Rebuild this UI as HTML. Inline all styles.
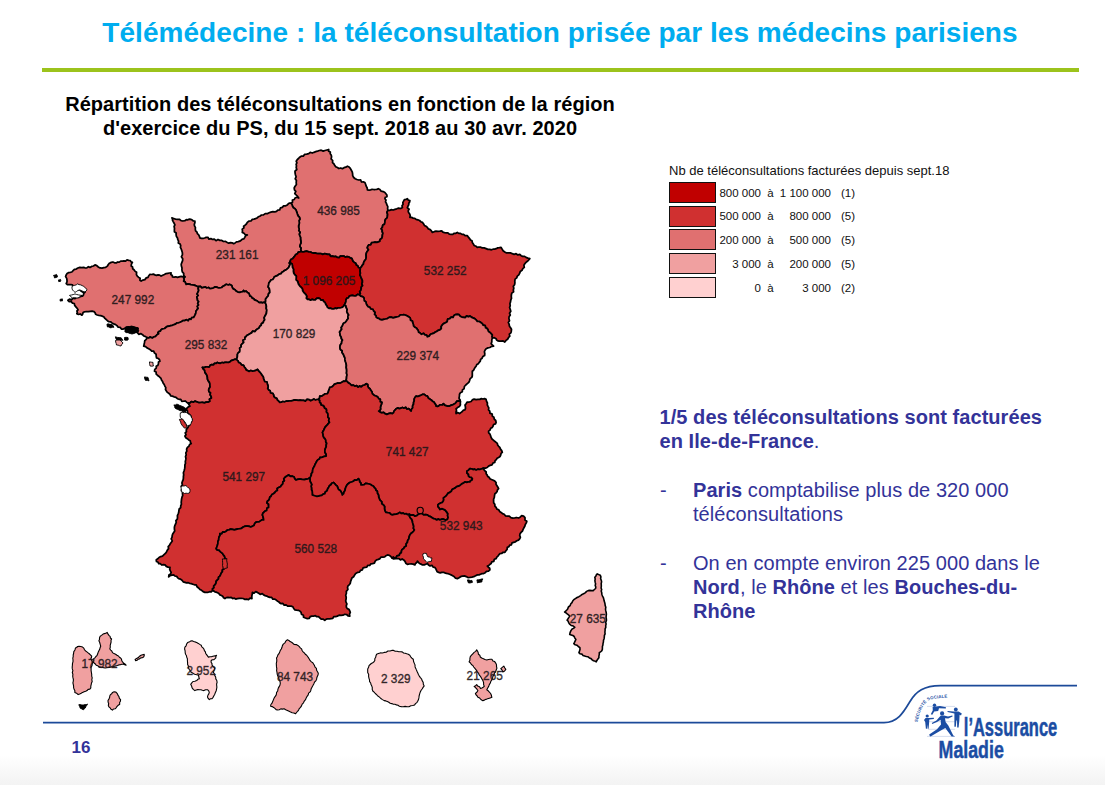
<!DOCTYPE html>
<html><head><meta charset="utf-8">
<style>
html,body{margin:0;padding:0;}
body{width:1105px;height:785px;position:relative;overflow:hidden;background:#fff;font-family:"Liberation Sans",sans-serif;}
.abs{position:absolute;white-space:nowrap;}
#botgrad{position:absolute;left:0;top:755px;width:1105px;height:30px;background:linear-gradient(#ffffff,#f3f3f3);}
#title{left:0;width:1120px;top:17px;text-align:center;font-weight:bold;font-size:28px;color:#00adef;line-height:32px;letter-spacing:0.05px;}
#gline{position:absolute;left:42px;top:68px;width:1037px;height:4px;background:#9cc31c;}
#sub{left:40px;width:600px;top:91.6px;letter-spacing:0.05px;text-align:center;font-weight:bold;font-size:20px;color:#000;line-height:24.5px;}
.leg{font-size:11.5px;color:#111;}
.sw{position:absolute;left:669px;width:45px;height:19px;border:1px solid #111;}
.rt{color:#333399;font-size:20px;line-height:24px;letter-spacing:0.06px;}
</style></head><body>
<div id="botgrad"></div>
<div id="title" class="abs">Télémédecine : la téléconsultation prisée par les médecins parisiens</div>
<div id="gline"></div>
<div id="sub" class="abs">Répartition des téléconsultations en fonction de la région<br>d'exercice du PS, du 15 sept. 2018 au 30 avr. 2020</div>

<!-- MAP -->
<svg id="map" class="abs" style="left:0;top:0" width="1105" height="785" viewBox="0 0 1105 785">
<g stroke="#000" stroke-width="1.75" stroke-linejoin="round">
<path d="M291.1,203.2 292.5,202.2 292.4,200.1 294.3,199.5 295,198 296.9,197.3 298.7,198 297.6,196.4 296.2,195 294.8,193.6 295.8,191.4 294.5,190 294.2,188 295.1,186.2 296.4,184.5 296.2,182.5 296.4,180.6 295.2,178.8 296.1,176.8 295.5,175 295.1,173.1 295,171.2 296.8,169.5 296.2,167.5 296.5,165.9 296.1,164.3 296.9,162.8 296.2,161.2 297.2,159.7 298.5,158.5 299.7,157.2 301.2,156.2 303.3,156.1 304.7,154.3 306.7,154.1 308.7,153.7 310.2,152.4 312.3,153 314,152.3 315.7,151.7 317.5,151.2 319.3,150.5 321.2,150.2 323.2,151.1 325,150.5 326.9,150 328.7,149.5 328.6,151.2 330.3,152.1 330.2,153.8 331.2,155 331.6,156.9 331.1,158.9 332.7,160.5 332.5,162.5 333.8,163.7 334.7,165.2 335.7,166.7 337.4,167.5 338.9,168.5 340.8,168 342.4,168.7 344,167.7 345.8,167.2 347.4,166.2 349.1,167 350.3,168.4 351.2,170 352.2,171.8 352.6,173.7 352.7,175.7 353.7,177.5 355.2,178.7 356.9,179.5 358.7,180 360.6,179.9 361.5,182 363.3,181.9 364.9,182.5 365.6,184.3 366.2,186.2 367.2,188 367.4,190 369,190.1 370.6,189.9 372.1,189.3 373.7,189.5 375.2,189.5 376.8,189.4 378.3,188.7 379.9,189.5 381.2,191.2 383.2,191.6 384.9,192.5 385.9,193.7 386.9,195 387,196.6 385.3,197.3 384.9,198.7 386,200 385.5,201.9 386.4,203.3 386.9,204.9 387.8,206.6 387.6,208.6 387.9,210.4 386.9,212.3 387.6,214.3 387.4,216.2 387.1,217.9 385.6,219.1 385,220.6 384.9,222.4 384.4,224.2 382.7,225.3 382.4,227.3 381.2,228.7 382.2,230.1 382.2,231.7 382.9,233.2 382.4,234.9 382.3,236.7 381.8,238.3 380.1,239.5 379.9,241.2 378.4,241.9 376.9,242.4 375.2,242.1 373.7,242.4 371.7,242.6 370.7,244.8 368.7,244.9 367.8,246.4 367.3,247.9 368.5,249.8 367.4,251.2 366.5,252.6 366.1,254.2 366.1,255.8 366.2,257.4 365.8,259.3 364.6,260.8 363.7,262.4 363.4,264.1 362.2,265.3 361.6,266.7 360.4,267.9 358.5,267.6 357.7,265.8 356.2,264.9 355.7,263.3 354.3,262.4 353,261.4 352.4,259.9 351.7,258.3 350,257.8 348.7,256.9 347,256.6 345.2,257.1 343.7,256.1 342.1,256.1 340.4,256 339.1,257.6 337.4,257.4 335.9,256.4 334.1,256.6 332.5,256.1 330.6,256.3 329.4,254.3 327.5,254.4 326,253.9 324.4,253.7 322.7,254.4 321.2,253.7 319.6,253.6 318.1,253.6 316.5,253.3 315,252.9 313.4,253.1 311.8,252.6 310.3,252 308.7,251.9 307,251.2 305.4,251.4 303.7,251.9 302.4,251.9 301.2,251.2 300.7,249.7 301,248 299.8,246.6 300,244.9 300.9,243.1 300.9,241.2 300.5,239.3 300.5,237.4 299.8,235.8 299.2,234.2 300.1,232.3 298.8,230.8 299.2,229 298.7,227.4 298.6,225.7 299.2,224.1 299.3,222.4 299,220.7 299.9,219.1 299.5,217.4 298.1,215.9 297.4,214.1 296.8,212.2 296.1,210.3 295,208.7 293.4,207.8 292.5,206.3 292,204.6 291.1,203.2Z" fill="#e07070"/>
<path d="M184.9,276.9 183.7,275.4 183.7,273.3 182.3,271.8 181.9,269.9 182,268 181.4,266.1 181.2,264.3 181.9,262.4 182.6,260.6 182.7,258.7 181.4,256.7 182.4,254.9 182.4,252.9 181.9,251 181.3,249.2 180.4,247.4 180.7,245.6 180.1,244.1 178.3,243 178.6,241.2 177.8,239.7 177.5,238 176.5,236.6 176.1,234.9 176.2,233 174.4,231.8 174.4,229.9 174.5,228.2 174.1,226.5 174.9,224.9 174.1,223.2 173.2,221.6 172.4,219.9 172.7,218.8 171.9,217.9 173.7,218.5 175.5,219.1 177.4,219.4 179.4,219.3 181,220.6 182.9,221 184.9,220.7 186.3,219.6 187.9,219.8 189.4,219.1 191.1,219.4 192.3,220.1 193.4,221 194.9,221.2 194.9,222.8 194.3,224.4 194.5,225.9 195.4,227.4 195.3,229.2 195.6,230.8 197,232.1 197.4,233.7 198.7,234.8 199.4,236.3 199.9,237.9 201.5,238.3 203.1,238.3 204.6,238 206.1,237.4 207.9,237.3 209,239.2 210.9,238.6 212.4,239.4 214.3,239.2 216,240.7 218,239.5 219.8,240.4 221.8,240.4 223.5,241.5 225.6,241.4 227.3,242.4 228.8,243.2 230.6,242.6 232.1,242.8 233.6,243.7 235.1,242.9 236.5,241.9 238.2,241.6 239.8,241.2 241.1,240.3 242.3,239.2 243.9,238.8 244.8,237.4 245.6,235.7 247.3,234.9 245.3,234.8 244,233.2 242.3,232.4 242.5,230.8 242.2,229.1 243.9,227.9 243.6,226.2 245.1,225.2 246.4,224 247.3,222.4 248.8,221.2 251,221 252.3,219.4 254,219.1 255.5,218.6 257,218 258.3,216.8 259.8,216.2 261.5,215 263.5,214.9 265.2,213.6 267.3,213.7 269.1,212.8 270.9,212.1 272.8,211.6 274.8,211.9 276.5,211.4 277.8,210.1 279.7,209.9 280.5,207.8 282.3,207.4 283.6,205.9 285.7,205.8 287.3,204.9 288.3,203.8 289.5,203.1 291.1,203.2 292,204.6 292.5,206.3 293.4,207.8 295,208.7 296.1,210.3 296.8,212.2 297.4,214.1 298.1,215.9 299.5,217.4 299.9,219.1 299,220.7 299.3,222.4 299.2,224.1 298.6,225.7 298.7,227.4 299.2,229 298.8,230.8 300.1,232.3 299.2,234.2 299.8,235.8 300.5,237.4 300.5,239.3 300.9,241.2 300.9,243.1 300,244.9 299.8,246.6 301,248 300.7,249.7 301.2,251.2 299.9,251.9 298.3,252.2 297.5,253.7 295.8,254.5 294.8,256 293.7,257.4 292.6,258.8 290.8,259.5 290.2,261.4 289.3,262.9 290,264.6 289.3,266.1 288.6,267.7 287.3,268.8 286,269.9 284.5,270.5 283.3,271.5 282,272.3 281,273.6 279.2,274.1 277.7,275.4 276,276.1 274.5,276.7 273.7,278.2 272.8,279.5 271.1,279.9 270,281.5 268.9,283 268.6,284.9 268.2,286.9 269.3,288.6 269.7,290.5 269.8,292.4 268.5,293.9 268.2,296 266.8,297.4 265.6,299 265.6,301 265.3,302.9 264,302.3 262.5,302.9 261.1,302.4 259.6,302.7 258.4,301.9 257.3,301.1 256,300.4 254.5,299.9 253.6,298.6 252.1,298.2 251.3,296.5 249.8,296.1 249.4,294.6 248.8,293.2 247.3,292.4 246.3,291.2 244.5,291.7 243.6,290.4 242.7,291.7 241.2,292 239.8,292.4 237.8,292.1 236.1,291.1 235,289.7 233.3,288.9 232.3,287.4 231.7,285.4 229.8,284.4 228.2,285 226.3,284.3 224.8,285.4 223.1,286.2 221.7,287.5 219.8,287.9 218.1,287.8 216.6,287.1 214.9,286.9 213.4,288 211.7,288.4 209.9,288.6 208.5,287.5 206.8,288 205.3,287 203.6,287.4 201.8,287.8 200.4,286.3 198.6,286.6 197,286.3 195.5,285.6 194,285.1 192.4,284.9 190.8,284.6 189.3,284.2 187.7,283.9 186.1,284.4 185.6,283.1 185,281.8 183.6,281.1 184.1,279.7 183.7,278.1 184.9,276.9Z" fill="#e07070"/>
<path d="M301.2,251.2 302.4,251.9 303.7,251.9 305.4,251.4 307,251.2 308.7,251.9 310.3,252 311.8,252.6 313.4,253.1 315,252.9 316.5,253.3 318.1,253.6 319.6,253.6 321.2,253.7 322.7,254.4 324.4,253.7 326,253.9 327.5,254.4 329.4,254.3 330.6,256.3 332.5,256.1 334.1,256.6 335.9,256.4 337.4,257.4 339.1,257.6 340.4,256 342.1,256.1 343.7,256.1 345.2,257.1 347,256.6 348.7,256.9 350,257.8 351.7,258.3 352.4,259.9 353,261.4 354.3,262.4 355.7,263.3 356.2,264.9 357.7,265.8 358.5,267.6 360.4,267.9 360.2,269.6 360.1,271.4 360.4,273.2 359.9,274.9 360.8,276.7 361.5,278.5 362.4,280.3 362.4,282.4 361.8,283.9 362.6,285.7 361.3,287 361.2,288.6 360.9,290.2 359.7,291.6 360.4,293.5 359.4,294.9 357.6,294.4 355.9,295.8 354.2,295.9 352.4,295.4 350.8,295.7 349.3,296.1 348.4,297.8 346.9,298.1 346,299.7 345.9,301.6 345.2,303.3 344.4,304.9 343.3,306.5 341.8,307.5 339.9,307.9 338.3,307.8 336.8,308.6 335.2,308.2 333.7,308.9 332.1,308.9 330.6,308.2 328.9,308.4 327.5,307.4 326.7,305.7 325.7,304.2 325,302.4 323.7,301.5 322.9,299.9 320.8,300.2 320,298.6 318.3,298.2 316.7,298.4 315.3,299.8 313.7,299.9 312.2,299.4 310.6,300.2 309.1,299.4 307.5,299.4 306.3,298.2 306.8,296.3 306.1,294.8 305,293.6 303.7,292.3 302.7,290.8 302.4,288.8 301.2,287.4 299.8,286.1 298.7,284.6 298.1,282.9 297.5,281.1 296.1,279.9 296.2,278 296.3,276.2 295,274.9 293.8,273.2 293.4,271.3 293.5,269.2 292.5,267.4 292.4,265.7 292.1,264.1 290.3,263.1 290.2,261.4 290.8,259.5 292.6,258.8 293.7,257.4 294.8,256 295.8,254.5 297.5,253.7 298.3,252.2 299.9,251.9 301.2,251.2Z" fill="#c00000"/>
<path d="M387.9,210.4 389.7,210.3 391.4,209.7 393.2,210 394.9,209.4 396.7,208.8 398.6,208.1 400.7,208.5 402.4,207.4 402,205.7 403.1,204.3 402.8,202.7 403.6,201.2 404.4,199.7 406,199.4 407.4,198.7 408.2,200.2 409.9,200.5 409.6,202 408.8,203.3 408.7,204.9 407.9,206.2 407.3,207.8 409.1,209.2 408.2,210.9 408.6,212.4 409.7,213.9 410.2,215.5 409.9,217.4 411.6,217.4 413.1,218.1 414.8,218.3 416.1,219.4 417.8,219.8 419.5,220.5 420.8,221.7 422.4,222.4 423.5,223.8 424.4,225.4 426,226.3 427.4,227.4 428.4,228.9 430.2,229.6 431.4,230.9 432.4,232.4 434.2,231.7 436,231.1 438,231.3 439.9,231.2 441.7,230.9 442.9,232.2 444.5,232.7 446.1,232.9 447.9,232.9 449.3,234.2 451.1,234.4 452.8,234.4 454.2,233.3 455.9,233.3 457.3,232.4 458.7,233.4 460.5,233.4 461.9,234.4 463.6,234.4 465.1,235.7 467.4,235.7 468.6,237.4 469.6,238.6 470.5,239.9 472,240.7 472.3,242.4 473.3,243.9 474.2,245.5 476,246.2 477.3,247.4 479,247 480.7,247.2 482.3,247.9 484.2,247.9 486.1,248.6 487.9,249.4 489.8,249.4 491.4,249.8 493,249.2 494.6,249.2 496.1,248.7 497.7,247.9 499.4,247.7 501.1,247.4 502.1,249.1 503.1,250.8 504.8,251.9 506.6,252.9 508.6,252.8 510.5,252.9 512.3,253.7 514.1,254.3 516.1,253.7 517.9,254.9 519.8,254.4 521.1,255.7 522.7,256.4 524.6,256.4 526,257.4 527.9,258.1 529.8,258.6 528.7,260 527.4,261.3 526,262.4 524.8,263.8 523.9,265.3 524.3,267.4 522.8,268.6 522,270.3 520.3,271.4 519.7,273.2 518.8,274.9 517.3,276.1 516.7,277.9 515.1,279.1 514.8,281.1 514.9,282.9 514.6,284.7 513.3,286.3 513.8,288.2 513.3,289.9 513.6,291.8 511.8,293.1 511.4,294.7 511.3,296.5 511.5,298.3 510.8,299.9 510.8,300 510.5,301.9 509.9,303.7 510.2,305.7 509.6,307.5 510.2,309.3 510.8,311.2 509.5,313.2 510.3,315 509.1,316.7 508.9,318.6 509.5,320.8 508.3,322.5 509.1,324.2 509.4,326 510.4,327.6 511.5,329.2 511.3,331.2 510.9,332.9 509.3,334.1 509.8,336.2 508.6,337.5 507.6,339.2 506,340.4 504.8,342 503.1,340.9 501.2,341.2 499.3,341.2 497.8,340.9 496.7,340.1 496.1,338.7 494.3,337.7 492.3,338 491.9,336.5 492.3,335 491.1,333.6 490,332.5 488.5,331.6 488,330 487.3,328.6 485.6,327.8 485.2,325.7 483.2,325.2 482.3,323.6 480.8,322.5 479.3,321.5 477.3,321.4 476.1,319.8 474.7,318.6 473,317.9 471.3,317.1 469.8,316.1 468.3,316.8 466.5,315.9 465.3,317.6 463.6,317.3 461.8,317.1 460.2,316.2 459.1,314.7 457.3,314.3 455.5,314.6 454,315.4 453.1,317.3 451,317.2 449.8,318.6 447.7,319.2 447.2,321.7 445.5,322.7 443.6,323.6 442.3,324.9 441.2,326.4 441.3,328.5 439.9,329.8 438.3,330.3 436.9,331.4 435.4,332 434,333.1 432.4,333.6 430.5,334.3 429.3,336.1 427.4,336.8 426.6,335.2 424.9,334.8 423.6,333.4 421.5,334.3 420.1,333.1 418.6,332.3 418.2,330.6 417.4,329.4 416.4,328.1 414.9,327.3 413.6,326 413.3,324.3 412.7,322.8 412.4,321.1 410.5,320.2 410.2,317.9 408.6,316.8 407.2,315.9 405.7,315.3 404.1,314.7 402.4,314.8 400.4,314.9 398.8,316.5 396.8,316.8 394.9,317.3 393.1,317.8 391,317.1 389.1,317.4 387.4,318.6 385.5,319 383.7,319.3 381.9,319.9 379.9,319.3 378.8,318.3 377.4,318.1 376.2,317.3 375.9,315.6 374.5,314.4 375,312.4 373.7,311.1 372.9,309.3 370.8,309 369.9,307.4 368.1,306.7 367,305.3 366.2,303.6 365.9,301.9 364.3,300.8 364.1,299 363.7,297.4 362.3,296.6 360.6,296.2 359.4,294.9 360.4,293.5 359.7,291.6 360.9,290.2 361.2,288.6 361.3,287 362.6,285.7 361.8,283.9 362.4,282.4 362.4,280.3 361.5,278.5 360.8,276.7 359.9,274.9 360.4,273.2 360.1,271.4 360.2,269.6 360.4,267.9 361.6,266.7 362.2,265.3 363.4,264.1 363.7,262.4 364.6,260.8 365.8,259.3 366.2,257.4 366.1,255.8 366.1,254.2 366.5,252.6 367.4,251.2 368.5,249.8 367.3,247.9 367.8,246.4 368.7,244.9 370.7,244.8 371.7,242.6 373.7,242.4 375.2,242.1 376.9,242.4 378.4,241.9 379.9,241.2 380.1,239.5 381.8,238.3 382.3,236.7 382.4,234.9 382.9,233.2 382.2,231.7 382.2,230.1 381.2,228.7 382.4,227.3 382.7,225.3 384.4,224.2 384.9,222.4 385,220.6 385.6,219.1 387.1,217.9 387.4,216.2 387.6,214.3 386.9,212.3 387.9,210.4Z" fill="#d03030"/>
<path d="M147,337.6 145.6,336.6 143.9,336 142.5,334.7 141,333.6 138.7,334.3 137.4,332.8 138,331.4 137,329.7 138,328.3 136.1,328.2 134.2,327.8 132.3,326.9 130.4,327.3 128.5,326.8 126.5,327.1 125,328.2 123.3,329 121.4,329 120.3,327.4 118.2,327.2 117,325.6 115.6,324.6 113.8,323.9 112.2,323.2 110.8,321.9 108.9,321.7 107.4,320.7 106.2,319.5 104.9,318.4 103.9,316.9 102.3,316.2 100.6,315.6 98.9,315.4 97.2,315 95.7,314.3 95,312.6 93.8,311.5 92.1,311.1 90.2,311.3 88.3,311.7 86.4,311.5 84.5,311.8 83.1,312.5 82.7,314 81.9,315.2 80.4,314 78.4,314.4 76.8,313.7 77.4,312.5 76.9,310.9 78.1,309.9 77.1,308.3 75.9,306.9 74.7,305.4 74.3,303.5 72.5,303.1 71.2,301.7 69.2,301.6 67.9,300.3 69.5,299.1 71.5,299.8 73,298.2 75,298.6 76.6,297.3 78.8,297.4 80.5,296.4 82.5,296.1 83.5,295 83.7,293.3 85,292.4 83,292.2 81.4,291.3 80,289.9 78.1,289.6 76.9,287.7 75,287.4 73.3,286.6 72.5,284.9 70.9,284.7 69.3,284.7 67.6,284.7 66.2,283.6 67,281.9 67,280.1 66.7,278.4 65.6,276.6 66.2,274.9 67.1,273.5 68.4,272.7 70,272.4 71.8,272 73.1,270.7 74.4,269.4 76.2,269.1 77.9,268 79.8,267.4 81.8,267.7 83.7,267.4 85.3,268 86.8,267.9 88.4,266.7 90,267.4 91.6,266.4 93.5,266 95,264.9 96.8,265.6 98.3,267 100,267.9 102,268.1 103.8,267.6 105.7,267.3 107.4,266.1 108.3,264.5 109.5,263.2 111.2,262.4 112.9,262 114.5,262.8 116.2,262.9 117.6,262 119.3,262.1 120.7,261.1 122.4,261.1 124,260.8 125.6,261.1 127,259.9 128.7,260.4 130.2,260.5 131.1,261.9 132.4,262.4 131.4,264.1 131.2,266.1 132.6,267 132.7,268.8 134,269.8 134.9,271.1 136.6,272.3 136.4,274.5 137.3,276.1 138.7,277.4 140.2,278.2 139.9,280.2 141.2,281.1 142.9,280.1 144.9,279.6 146.2,277.9 148,277.3 148.8,275.7 149.9,274.4 151.6,274.5 153.3,274.1 154.9,274.9 156.4,275.4 158.1,274.8 159.7,275.1 161.1,276.1 162.7,275.2 164.4,274.5 166.1,273.6 167.8,273.3 169.4,273 171.1,272.9 170.8,274.5 172.3,275.5 172.4,276.9 174.1,277.1 175.8,276.8 177.4,277.4 179.2,276.9 181.1,276.4 183,276.9 184.9,276.9 183.7,278.1 184.1,279.7 183.6,281.1 185,281.8 185.6,283.1 186.1,284.4 187.7,283.9 189.3,284.2 190.8,284.6 192.4,284.9 194,285.1 195.5,285.6 197,286.3 198.6,286.6 198.2,288.5 198.7,290.5 197.9,292.4 197.1,293.9 198.2,295.5 196.8,297 197.4,298.6 197.5,300.2 198.7,301.6 197.7,303.4 198.6,304.9 197.3,306.3 198.1,308.4 196.9,309.9 196,311.3 195.8,313.1 195.2,314.6 194.4,316.1 193.6,317.5 191.7,317.7 191.1,319.3 189.4,318.9 188.2,320.8 186.3,319.7 184.9,320.6 183.1,320.6 181.7,321.5 180.1,322.2 178.6,322.8 176.9,323 175.5,324.2 173.9,324.7 172.4,325.3 170.8,325.6 169.2,326.2 167.5,326.3 166.1,327.3 164.6,328.5 162.7,328.8 161.1,329.8 160.4,331.2 158.8,331.6 157.9,332.8 158.7,333.7 157,334.7 155.7,336.3 153.7,337 152.2,338 150.2,337 148.7,338 147,337.6Z" fill="#e07070"/>
<path d="M187.9,402.9 186.6,402.2 185.4,401 183.7,401.2 181.8,401.3 180.8,399.3 179,399.3 177.4,398.7 176,397.3 174.2,396.8 172.4,396.2 170.7,395.9 169.9,394.2 168.7,393.3 167.4,392.4 166.4,391 165.5,389.5 165.8,387.6 164.9,386.2 164.2,384.5 163.1,382.9 162.4,381.2 161.5,380 161,378.4 159.9,377.3 158.7,376.2 157.4,375.2 156.2,374.1 156.1,372 154.5,371.2 154.8,369.4 156.3,368.1 156.2,366.2 157.8,365.4 158.4,364 158.5,362.1 159.9,361.2 159.5,359.6 158.3,358.5 156.5,357.9 156.2,356.2 156.1,354.2 154.4,352.9 153.7,351.2 151.7,351.1 150.3,349.7 148.7,348.7 147,347.9 145.6,346.7 143.7,346.2 144.1,344.4 144.5,342.5 144.8,340.6 146.3,339.3 147,337.6 148.7,338 150.2,337 152.2,338 153.7,337 155.7,336.3 157,334.7 158.7,333.7 157.9,332.8 158.8,331.6 160.4,331.2 161.1,329.8 162.7,328.8 164.6,328.5 166.1,327.3 167.5,326.3 169.2,326.2 170.8,325.6 172.4,325.3 173.9,324.7 175.5,324.2 176.9,323 178.6,322.8 180.1,322.2 181.7,321.5 183.1,320.6 184.9,320.6 186.3,319.7 188.2,320.8 189.4,318.9 191.1,319.3 191.7,317.7 193.6,317.5 194.4,316.1 195.2,314.6 195.8,313.1 196,311.3 196.9,309.9 198.1,308.4 197.3,306.3 198.6,304.9 197.7,303.4 198.7,301.6 197.5,300.2 197.4,298.6 196.8,297 198.2,295.5 197.1,293.9 197.9,292.4 198.7,290.5 198.2,288.5 198.6,286.6 200.4,286.3 201.8,287.8 203.6,287.4 205.3,287 206.8,288 208.5,287.5 209.9,288.6 211.7,288.4 213.4,288 214.9,286.9 216.6,287.1 218.1,287.8 219.8,287.9 221.7,287.5 223.1,286.2 224.8,285.4 226.3,284.3 228.2,285 229.8,284.4 231.7,285.4 232.3,287.4 233.3,288.9 235,289.7 236.1,291.1 237.8,292.1 239.8,292.4 241.2,292 242.7,291.7 243.6,290.4 244.5,291.7 246.3,291.2 247.3,292.4 248.8,293.2 249.4,294.6 249.8,296.1 251.3,296.5 252.1,298.2 253.6,298.6 254.5,299.9 256,300.4 257.3,301.1 258.4,301.9 259.6,302.7 261.1,302.4 262.5,302.9 264,302.3 265.3,302.9 266.1,304.6 266.4,306.4 266.2,308.3 266.8,310 266.6,311.6 266.4,313.3 265.7,314.8 264.9,316.2 264.1,317.8 264.7,319.7 263.6,321.2 263.2,322.8 261.5,323.6 261.2,325.3 259.9,326.2 259.1,327.9 257.5,328.9 256.1,330 255,331.6 252.6,331.2 251.5,332.9 249.9,333.7 248.6,334.6 247.1,335.2 246.1,336.5 244.9,337.5 245,339.3 243,340.3 243.7,342.4 242.4,343.7 241.1,345 241.2,346.9 239.7,348.1 239.9,350 239.7,351.7 238.2,352.9 237.4,354.4 237.4,356.2 237.1,358 236.1,359.4 234.3,359.4 232.8,360.2 231.2,360.6 229.9,361.9 228.4,362.5 226.7,362.4 225.1,362.3 223.6,362.9 222.1,362.5 220.4,363.3 218.9,363.2 217.4,362.4 216.3,363.4 214.4,363.4 213.6,364.9 211.8,364.7 210.3,365.2 209.2,367.1 207.4,366.9 205.7,366.9 204.1,367.7 202.4,367.4 203.3,369 204.7,370.4 204.9,372.4 206.1,373.9 207,375.5 207.4,377.4 207.5,379.2 208.2,380.7 209.3,382.1 209.9,383.7 209.9,385.3 210.1,387 209.1,388.4 208.7,389.9 208.9,391.6 210.5,392.8 210.1,394.8 211.1,396.2 211.4,398 209.5,399.3 209.9,401.2 208.1,402.2 206.2,402.2 204.4,402.8 202.4,402.4 200.5,402.5 198.5,402.5 196.7,401.8 194.9,401.2 193.3,402.2 191.3,401.7 189.8,403.2 187.9,402.9Z" fill="#e07070"/>
<path d="M265.3,302.9 265.6,301 265.6,299 266.8,297.4 268.2,296 268.5,293.9 269.8,292.4 269.7,290.5 269.3,288.6 268.2,286.9 268.6,284.9 268.9,283 270,281.5 271.1,279.9 272.8,279.5 273.7,278.2 274.5,276.7 276,276.1 277.7,275.4 279.2,274.1 281,273.6 282,272.3 283.3,271.5 284.5,270.5 286,269.9 287.3,268.8 288.6,267.7 289.3,266.1 290,264.6 289.3,262.9 290.2,261.4 290.3,263.1 292.1,264.1 292.4,265.7 292.5,267.4 293.5,269.2 293.4,271.3 293.8,273.2 295,274.9 296.3,276.2 296.2,278 296.1,279.9 297.5,281.1 298.1,282.9 298.7,284.6 299.8,286.1 301.2,287.4 302.4,288.8 302.7,290.8 303.7,292.3 305,293.6 306.1,294.8 306.8,296.3 306.3,298.2 307.5,299.4 309.1,299.4 310.6,300.2 312.2,299.4 313.7,299.9 315.3,299.8 316.7,298.4 318.3,298.2 320,298.6 320.8,300.2 322.9,299.9 323.7,301.5 325,302.4 325.7,304.2 326.7,305.7 327.5,307.4 328.9,308.4 330.6,308.2 332.1,308.9 333.7,308.9 335.2,308.2 336.8,308.6 338.3,307.8 339.9,307.9 341.8,307.5 343.3,306.5 344.4,304.9 345.9,305.8 346.2,307.5 347.2,309.3 346.8,311.5 347.6,313.3 348.7,315 347.8,316.4 348.2,318.4 347.2,319.8 346.2,321.2 345.2,322.5 343.6,323.2 342.9,324.7 342.2,326.2 341.2,327.5 341.7,329.2 340.7,330.6 339.6,332 340,333.7 340.2,335.5 341.2,336.9 341.4,338.6 342.5,340 341.7,341.5 341.6,343.2 340.5,344.6 340,346.2 340,347.9 340.4,349.5 342.2,350.7 342,352.5 343.3,354.1 344,356 344.9,357.8 345,359.9 345.5,361.7 346.1,363.6 346.4,365.4 346.2,367.4 346.6,369.3 346.7,371.1 346.5,373.1 347,374.9 346.6,376.7 346.5,378.6 346.1,380.4 345,381.4 343.5,381.2 341.8,382.3 340,383.2 337.8,383 336,383.7 334.3,384.3 333.1,385.9 331.7,387 329.8,387.4 329.3,389 328.7,390.6 328.2,392.2 327.3,393.7 325.2,393.8 323.5,394.9 321.9,396.1 319.8,396.2 319.6,398 318.6,399.4 317,399.5 315.5,400 313.8,399.1 312.3,399.9 310.6,400.8 308.8,399.6 307,399.4 305.4,401.1 303.6,400.4 301.8,400.4 300.1,400.2 298.3,400.3 296.6,400.1 294.8,399.9 293.1,400.4 291.4,400.8 289.6,400.9 287.9,401.1 286.1,401.2 284.6,401.8 282.9,401.5 281.4,402.1 279.8,402.4 278.6,401.1 277.3,399.9 276.7,398.4 275,397.7 273.9,396.6 273.6,394.9 272.7,393.3 270.5,393 270.2,390.8 268.6,389.9 267.7,388.5 268.1,386.8 267.8,385.2 267.3,383.7 267,382 264.8,381.7 264.2,380.2 263.6,378.7 263.2,376.8 262,375.3 261.1,373.7 259.9,372.3 258.6,370.9 257.4,369.4 255.9,370.3 254.2,370.8 252.4,371.2 250.9,370.5 249.1,371.4 247.6,370.6 246.1,369.9 245.5,368.3 244.3,367 243.6,365.4 241.6,364.9 240.4,363.2 238.6,362.4 237.8,360.6 236.1,359.4 237.1,358 237.4,356.2 237.4,354.4 238.2,352.9 239.7,351.7 239.9,350 239.7,348.1 241.2,346.9 241.1,345 242.4,343.7 243.7,342.4 243,340.3 245,339.3 244.9,337.5 246.1,336.5 247.1,335.2 248.6,334.6 249.9,333.7 251.5,332.9 252.6,331.2 255,331.6 256.1,330 257.5,328.9 259.1,327.9 259.9,326.2 261.2,325.3 261.5,323.6 263.2,322.8 263.6,321.2 264.7,319.7 264.1,317.8 264.9,316.2 265.7,314.8 266.4,313.3 266.6,311.6 266.8,310 266.2,308.3 266.4,306.4 266.1,304.6 265.3,302.9Z" fill="#f0a0a0"/>
<path d="M344.4,304.9 345.2,303.3 345.9,301.6 346,299.7 346.9,298.1 348.4,297.8 349.3,296.1 350.8,295.7 352.4,295.4 354.2,295.9 355.9,295.8 357.6,294.4 359.4,294.9 360.6,296.2 362.3,296.6 363.7,297.4 364.1,299 364.3,300.8 365.9,301.9 366.2,303.6 367,305.3 368.1,306.7 369.9,307.4 370.8,309 372.9,309.3 373.7,311.1 375,312.4 374.5,314.4 375.9,315.6 376.2,317.3 377.4,318.1 378.8,318.3 379.9,319.3 381.9,319.9 383.7,319.3 385.5,319 387.4,318.6 389.1,317.4 391,317.1 393.1,317.8 394.9,317.3 396.8,316.8 398.8,316.5 400.4,314.9 402.4,314.8 404.1,314.7 405.7,315.3 407.2,315.9 408.6,316.8 410.2,317.9 410.5,320.2 412.4,321.1 412.7,322.8 413.3,324.3 413.6,326 414.9,327.3 416.4,328.1 417.4,329.4 418.2,330.6 418.6,332.3 420.1,333.1 421.5,334.3 423.6,333.4 424.9,334.8 426.6,335.2 427.4,336.8 429.3,336.1 430.5,334.3 432.4,333.6 434,333.1 435.4,332 436.9,331.4 438.3,330.3 439.9,329.8 441.3,328.5 441.2,326.4 442.3,324.9 443.6,323.6 445.5,322.7 447.2,321.7 447.7,319.2 449.8,318.6 451,317.2 453.1,317.3 454,315.4 455.5,314.6 457.3,314.3 459.1,314.7 460.2,316.2 461.8,317.1 463.6,317.3 465.3,317.6 466.5,315.9 468.3,316.8 469.8,316.1 471.3,317.1 473,317.9 474.7,318.6 476.1,319.8 477.3,321.4 479.3,321.5 480.8,322.5 482.3,323.6 483.2,325.2 485.2,325.7 485.6,327.8 487.3,328.6 488,330 488.5,331.6 490,332.5 491.1,333.6 492.3,335 491.9,336.5 492.3,338 491.8,339.9 491.8,341.9 491.1,343.7 492.3,345 493.6,346.2 492.2,346.3 491,346.8 489.8,347.5 487.9,347.9 486.1,348.7 485,350.2 484.4,351.8 484.8,353.7 484.6,355.6 482.8,356.6 482.1,358.2 480.6,359.4 480.3,361.2 479.2,362.4 478.3,363.8 476.8,364.6 476.1,366.2 475.1,367.4 474.3,368.8 473.6,370.2 472.3,371.2 472.3,372.8 472.3,374.3 472.3,375.9 471.8,377.4 470.2,378.6 469.6,380.6 468.8,382.4 467.3,383.7 465.8,385 464.4,386.5 464.1,388.7 462.4,389.9 462.3,391.8 460.4,392.8 459.5,394.3 459.4,396.2 459,398.1 459.9,399.9 458.9,401.1 457,401.1 456.1,402.4 455.1,403.5 453.7,404.2 452.4,404.9 450.8,405.4 449.2,406.2 447.4,406.2 445.9,405.7 444.4,405.2 443.6,403.7 442,405 439.9,404.9 438.8,405.9 437.6,406.5 436.1,406.2 435.7,404.6 434.7,403.4 433.9,402 432.4,401.2 431.2,399.9 429.7,398.9 428.2,397.9 427.4,396.2 425.7,395.6 424.3,394.3 422.4,394.4 420.9,395.2 419.4,395.9 417.9,396.5 416.1,396.2 414.9,397.5 414.2,399 414.2,400.9 413.6,402.4 413.5,404.3 412.6,405.9 412.7,407.8 411.5,409.3 411.1,411.1 409.9,409.9 408.7,408.7 407,409.1 405.7,407.4 403.9,408.2 402.4,407.4 400.9,408.2 399.4,408.7 397.7,407.9 396.2,408.7 395.2,409.9 394.1,411 393.6,412.6 392.4,413.6 390.5,413.1 388.6,413.6 386.8,414.4 384.9,413.6 383.6,412.4 381.6,412.8 380.1,412.1 378.7,411.1 379.9,410.2 380.6,409 380.4,407.4 380.8,405.7 381.5,404.1 381.9,402.4 380.2,401.7 380.3,399.4 378.7,398.7 377.9,397.2 376.6,396.3 375.1,395.7 373.7,394.9 372.3,393.6 371.9,391.7 370.8,390.3 369.9,388.7 368.6,387.7 367.8,386.4 367.7,384.6 366.2,383.7 364.7,385 362.7,385.5 361.2,386.9 359.7,386 358,387.2 356.6,385.7 355,386.2 353.4,385.1 351.3,385.3 350,383.7 348.4,382.9 347.2,381.7 346.1,380.4 346.5,378.6 346.6,376.7 347,374.9 346.5,373.1 346.7,371.1 346.6,369.3 346.2,367.4 346.4,365.4 346.1,363.6 345.5,361.7 345,359.9 344.9,357.8 344,356 343.3,354.1 342,352.5 342.2,350.7 340.4,349.5 340,347.9 340,346.2 340.5,344.6 341.6,343.2 341.7,341.5 342.5,340 341.4,338.6 341.2,336.9 340.2,335.5 340,333.7 339.6,332 340.7,330.6 341.7,329.2 341.2,327.5 342.2,326.2 342.9,324.7 343.6,323.2 345.2,322.5 346.2,321.2 347.2,319.8 348.2,318.4 347.8,316.4 348.7,315 347.6,313.3 346.8,311.5 347.2,309.3 346.2,307.5 345.9,305.8 344.4,304.9Z" fill="#e07070"/>
<path d="M212.9,590.6 211.9,591 211.2,591.9 209.6,591.7 208.1,592.3 206.5,592.3 204.9,592.4 203.1,591.6 201.6,590.3 199.9,589.4 198.6,588 197,586.7 196.2,584.9 194.4,584.8 192.8,584.2 191.2,583.6 189.6,583.3 188.2,582.7 186.5,582.9 185,582.4 183.2,581.8 182,580.3 180.5,579.1 178.7,578.6 177.5,577.6 176.6,576.3 174.8,576 173.7,574.9 171.9,575.1 170.1,575.6 168.7,576.9 168.9,575 170.5,574 171.2,572.4 170.3,570.9 169.7,569.2 170,567.4 168,567.1 166.3,566.4 165,564.9 163.4,564.6 161.7,565 160.3,563.6 158.7,563.6 158.1,562.2 156.5,561.5 156.2,559.9 157.7,558.8 159,557.5 160.7,556.6 162.5,556.1 164,554.7 165.4,553.4 166.6,551.7 167.5,549.9 168.6,548.6 168.2,546.5 169.4,545.3 170.2,543.8 171.2,542.4 172.3,540.9 171.2,538.9 172,537.3 172.2,535.6 172.7,533.9 173.7,532.4 174.7,530.9 174.4,529 174.4,527.3 174.8,525.6 175.6,524 176.2,522.4 175.9,520.6 177.3,519.1 177.5,517.4 177.4,515.6 178.1,514 178.7,512.4 178.9,510.7 179.2,509 180.7,507.6 180.7,505.8 181.4,504.2 181.2,502.4 181.4,500.6 181.6,498.9 182,497.2 182.7,495.5 182.5,493.7 182.5,491.8 181.4,490 182.3,487.9 181.2,486.2 182.4,484.8 181.9,483 182.4,481.4 183.1,479.8 183.4,478.2 183.4,476.5 183.7,474.8 183.4,472.8 184.1,470.8 184.6,468.9 184.9,466.9 184.9,464.9 185.5,463.3 185.3,461.6 185.7,459.9 185.9,458.3 185.5,456.5 186.2,454.9 185.8,452.9 186.8,451.1 186.6,449.2 187.4,447.4 188.9,446.3 189.6,444.5 191.2,443.6 190.5,442.3 190.2,440.7 188.7,439.9 187.3,438.7 185.8,437.7 184.9,436.1 186,434.7 185.2,432.9 186.5,431.6 186.2,429.9 187,428.6 188,427.4 188.7,425.9 189.9,424.9 190.1,423.1 191.3,421.6 191.9,419.9 191.1,418.3 191,416.4 189.9,414.9 188.7,413.8 187.4,412.9 187.5,410.9 186.2,409.9 186.9,408.1 188.2,407 189.9,406.2 188.9,404.5 187.9,402.9 189.8,403.2 191.3,401.7 193.3,402.2 194.9,401.2 196.7,401.8 198.5,402.5 200.5,402.5 202.4,402.4 204.4,402.8 206.2,402.2 208.1,402.2 209.9,401.2 209.5,399.3 211.4,398 211.1,396.2 210.1,394.8 210.5,392.8 208.9,391.6 208.7,389.9 209.1,388.4 210.1,387 209.9,385.3 209.9,383.7 209.3,382.1 208.2,380.7 207.5,379.2 207.4,377.4 207,375.5 206.1,373.9 204.9,372.4 204.7,370.4 203.3,369 202.4,367.4 204.1,367.7 205.7,366.9 207.4,366.9 209.2,367.1 210.3,365.2 211.8,364.7 213.6,364.9 214.4,363.4 216.3,363.4 217.4,362.4 218.9,363.2 220.4,363.3 222.1,362.5 223.6,362.9 225.1,362.3 226.7,362.4 228.4,362.5 229.9,361.9 231.2,360.6 232.8,360.2 234.3,359.4 236.1,359.4 237.8,360.6 238.6,362.4 240.4,363.2 241.6,364.9 243.6,365.4 244.3,367 245.5,368.3 246.1,369.9 247.6,370.6 249.1,371.4 250.9,370.5 252.4,371.2 254.2,370.8 255.9,370.3 257.4,369.4 258.6,370.9 259.9,372.3 261.1,373.7 262,375.3 263.2,376.8 263.6,378.7 264.2,380.2 264.8,381.7 267,382 267.3,383.7 267.8,385.2 268.1,386.8 267.7,388.5 268.6,389.9 270.2,390.8 270.5,393 272.7,393.3 273.6,394.9 273.9,396.6 275,397.7 276.7,398.4 277.3,399.9 278.6,401.1 279.8,402.4 281.4,402.1 282.9,401.5 284.6,401.8 286.1,401.2 287.9,401.1 289.6,400.9 291.4,400.8 293.1,400.4 294.8,399.9 296.6,400.1 298.3,400.3 300.1,400.2 301.8,400.4 303.6,400.4 305.4,401.1 307,399.4 308.8,399.6 310.6,400.8 312.3,399.9 313.8,399.1 315.5,400 317,399.5 318.6,399.4 319.8,400.5 319.7,402.3 321,403.3 321.2,404.9 322.8,405.3 324.1,406.3 324.7,408.1 326.2,408.7 326.7,410.2 326.5,412 327.8,413.3 328,414.9 327.9,416.9 329.2,418.6 328.7,420.6 329.5,422.4 328.3,423.6 327.3,424.9 326.1,426.1 325,427.4 324.2,429.1 323.4,430.8 322.5,432.4 323,434 323.2,435.7 323.7,437.3 325,438.6 325.8,440.1 325.8,441.7 326.7,443.2 326.2,444.9 326.2,446.8 325.3,448.6 324.9,450.5 325,452.4 326.1,454.1 326.2,456.1 324.6,456.3 323.1,456.9 321.6,457.5 320,457.4 319.5,459 317.9,459.7 316.9,461 316.2,462.4 315.3,464 314.6,465.7 313.7,467.3 312.9,468.9 312.6,470.6 312.5,472.3 311.4,473.5 311.3,475.2 310.7,476.6 309.9,477.9 308.1,478.8 306.2,479.1 304.3,479.6 302.3,479.5 300.7,479.1 299.2,479.2 297.6,479.4 296.1,480 294.8,478.8 294.1,477.1 292.4,476.2 290.3,476.3 288.6,475 287.4,475.8 286.1,476.5 284.9,477.5 283.8,478.8 284.4,480.8 282.8,482 282.9,483.7 281.6,485.1 280.5,486.7 278.6,487.5 277.2,488.4 277.4,490.5 275.8,491.2 274.9,492.5 273.6,493.7 271.9,494.5 271.1,496.2 269.8,497.2 269.5,498.9 268.7,500.2 267.4,501.2 266.9,502.9 268.6,504.2 268.6,505.8 268.6,507.4 266.9,508.2 266.7,510.4 264.9,511.2 263.8,512.3 262.8,513.4 262.4,514.9 263,516.5 263.4,518.2 263.6,519.9 261.9,519.9 260.5,520.9 259.1,521.9 257.4,521.9 255.7,522.4 254.6,523.7 254,525.5 252.4,526.2 250.8,527 249.2,526.4 247.7,526.2 246.1,526.2 244.4,526.4 242.9,527.2 241.5,528.3 239.9,528.7 238,528.8 236.2,529.3 234.3,529.9 232.4,529.4 230.6,529.1 229.2,529.8 227.5,530 226.2,531.2 224.7,532.1 222.8,531.8 221.7,533.8 219.9,533.7 220.1,535.3 219.2,536.8 218.8,538.3 218.7,539.9 217.9,541.6 217.9,543.5 217.4,545.2 216.8,547 216.2,548.7 217.2,549.9 219,550.1 220,551.4 221.2,552.4 222.5,553.4 223.3,554.7 224.3,555.9 224.9,557.4 225.4,559.2 225.2,561.2 225.7,563.1 226.2,564.9 225.8,566.5 223.7,566.9 223.9,569.1 222.4,569.9 222.4,571.7 221.3,573 220.6,574.6 219.9,576.1 218.6,577.1 218.5,578.9 217.4,580 216.2,581.1 216,583.1 215.1,584.7 213.7,586.1 214,587.7 212.5,589 212.9,590.6Z" fill="#d03030"/>
<path d="M318.6,399.4 319.6,398 319.8,396.2 321.9,396.1 323.5,394.9 325.2,393.8 327.3,393.7 328.2,392.2 328.7,390.6 329.3,389 329.8,387.4 331.7,387 333.1,385.9 334.3,384.3 336,383.7 337.8,383 340,383.2 341.8,382.3 343.5,381.2 345,381.4 346.1,380.4 347.2,381.7 348.4,382.9 350,383.7 351.3,385.3 353.4,385.1 355,386.2 356.6,385.7 358,387.2 359.7,386 361.2,386.9 362.7,385.5 364.7,385 366.2,383.7 367.7,384.6 367.8,386.4 368.6,387.7 369.9,388.7 370.8,390.3 371.9,391.7 372.3,393.6 373.7,394.9 375.1,395.7 376.6,396.3 377.9,397.2 378.7,398.7 380.3,399.4 380.2,401.7 381.9,402.4 381.5,404.1 380.8,405.7 380.4,407.4 380.6,409 379.9,410.2 378.7,411.1 380.1,412.1 381.6,412.8 383.6,412.4 384.9,413.6 386.8,414.4 388.6,413.6 390.5,413.1 392.4,413.6 393.6,412.6 394.1,411 395.2,409.9 396.2,408.7 397.7,407.9 399.4,408.7 400.9,408.2 402.4,407.4 403.9,408.2 405.7,407.4 407,409.1 408.7,408.7 409.9,409.9 411.1,411.1 411.5,409.3 412.7,407.8 412.6,405.9 413.5,404.3 413.6,402.4 414.2,400.9 414.2,399 414.9,397.5 416.1,396.2 417.9,396.5 419.4,395.9 420.9,395.2 422.4,394.4 424.3,394.3 425.7,395.6 427.4,396.2 428.2,397.9 429.7,398.9 431.2,399.9 432.4,401.2 433.9,402 434.7,403.4 435.7,404.6 436.1,406.2 437.6,406.5 438.8,405.9 439.9,404.9 442,405 443.6,403.7 444.4,405.2 445.9,405.7 447.4,406.2 449.2,406.2 450.8,405.4 452.4,404.9 453.7,404.2 455.1,403.5 456.1,402.4 457,401.1 458.9,401.1 459.9,399.9 460.5,401.5 460.3,403.2 460.4,404.9 459.4,406.6 457.6,407.6 456.1,408.7 456.5,410.3 456,412 456.1,413.6 457.6,412.5 459.6,413.6 461.1,412.4 462.3,411.5 463.3,410.2 464.9,409.9 465.5,408.4 465.4,406.8 465,405.1 466.1,403.7 467.2,402 469.3,402 471.1,401.5 472.3,399.9 474.1,399.1 476.1,399.7 477.9,399.4 479.8,399.4 481.4,398.6 483,399 484.5,398.6 486.1,399.4 486.5,401.2 487.4,403 487.3,404.9 488,406.4 488.8,407.9 488.5,409.8 489.8,411.1 489.9,413.1 492.2,414.1 492.3,416.1 493.9,417.3 494.3,419.2 495.7,420.5 496.1,422.4 495.5,423.9 493.6,424.5 493.1,426 492.3,427.4 490.7,428.3 490,430.1 488.6,431.1 488.7,432.9 490,434.2 490.6,435.8 491.1,437.4 492,439 493.4,440.1 494.7,441.3 496.1,442.4 497.3,443.4 497.7,445.1 498.7,446.3 499.8,447.4 500.5,449.1 501.7,450.6 502.3,452.4 501.1,453.4 500.7,455.1 500,456.5 498.6,457.4 497.1,458.2 496.3,459.6 495.1,460.7 494.8,462.4 493,463 492,464.8 490.2,465.3 488.6,466.1 487.2,467.5 485.5,468.1 483.6,468.2 481.8,468.8 479.9,469.5 477.9,469.2 476.1,470 474.6,469.2 473,469.6 471.5,468.8 469.9,468.7 468.5,470.1 466.9,471.2 467,473 468.5,474.4 468.6,476.2 469.8,477.2 471.5,477.4 472.4,478.7 471.9,480.1 470.5,480.7 469.9,482 468.2,481.8 466.7,482.3 465,481.9 463.6,483 461.8,483.9 460.3,485.2 458.6,486.2 456.7,486.6 455.3,487.9 453.6,488.7 452.1,489.6 451.3,491.3 449.9,492.4 448.2,493.1 447.2,494.5 446.2,495.8 444.9,496.9 443.5,497.9 443.7,499.7 443.2,501.1 442.4,502.4 440.7,503 439.2,503.7 437.9,504.9 438,506.7 439.2,507.9 439.9,509.4 441.7,508.7 443.3,509.2 444.9,509.9 446,511.1 447,512.4 447.9,513.7 447.6,515.6 448.1,517.5 447.4,519.4 445.6,520.1 443.6,519.2 441.7,519.2 439.9,519.9 438.4,519.1 436.7,519.9 435.2,519 433.7,518.7 432.1,517.8 430.6,516.7 428.8,516.1 427.4,514.9 425.5,514.7 423.6,514.9 421.9,513.4 419.9,513.7 418.2,514.4 416.8,515.7 414.9,516.2 413.3,514.9 411.2,515.2 409.4,514.4 407.7,514.7 406.2,513.7 404.5,514 403,513.1 401.3,513.5 399.9,512.4 399.8,512.4 398.1,513.6 396.2,514.2 394.2,514.4 392.3,514.9 390.7,514.2 389.5,512.9 387.7,512.7 386,512.4 384.9,510.7 384.5,508.7 384.6,506.6 383.5,504.9 381.8,503.8 381.7,501.6 380.1,500.4 379.3,498.7 378.7,496.9 378.5,494.9 377.4,493.2 377.3,491.2 375.9,490.3 375.5,488.6 374.3,487.6 373.5,486.2 372,485.5 370.6,484.5 369,484 367.3,483.7 365.6,483.4 364.2,484.7 362.6,484.8 361,485 360.9,483.2 359.7,481.9 359.4,480.2 358.5,478.7 356.9,480.1 354.8,480 353.3,481.2 351.6,482 349.8,482.5 348.2,483.7 346.9,485.1 346,486.8 345.3,488.7 345,490.5 344,492 343.6,493.7 342.3,495 341.9,493.3 341,491.8 340.2,490.4 338.5,489.4 337.8,487.9 337.3,486.2 335.9,485.1 334.8,483.8 333.6,482.5 331.8,483.2 330.9,484.8 329.4,485.8 328.6,487.5 327.6,489 327.1,490.8 325.3,491.9 324.8,493.7 323.2,494.1 321.8,495.3 320.2,495.7 318.6,496.2 316.9,496.3 315.4,496 313.8,495.5 312.3,495 312.3,493.2 312.2,491.4 311.5,489.7 311.5,487.9 311.1,486.2 311.7,484.4 310.9,482.8 310,481.3 310,479.6 309.9,477.9 310.7,476.6 311.3,475.2 311.4,473.5 312.5,472.3 312.6,470.6 312.9,468.9 313.7,467.3 314.6,465.7 315.3,464 316.2,462.4 316.9,461 317.9,459.7 319.5,459 320,457.4 321.6,457.5 323.1,456.9 324.6,456.3 326.2,456.1 326.1,454.1 325,452.4 324.9,450.5 325.3,448.6 326.2,446.8 326.2,444.9 326.7,443.2 325.8,441.7 325.8,440.1 325,438.6 323.7,437.3 323.2,435.7 323,434 322.5,432.4 323.4,430.8 324.2,429.1 325,427.4 326.1,426.1 327.3,424.9 328.3,423.6 329.5,422.4 328.7,420.6 329.2,418.6 327.9,416.9 328,414.9 327.8,413.3 326.5,412 326.7,410.2 326.2,408.7 324.7,408.1 324.1,406.3 322.8,405.3 321.2,404.9 321,403.3 319.7,402.3 319.8,400.5 318.6,399.4Z" fill="#d03030"/>
<path d="M309.9,477.9 310,479.6 310,481.3 310.9,482.8 311.7,484.4 311.1,486.2 311.5,487.9 311.5,489.7 312.2,491.4 312.3,493.2 312.3,495 313.8,495.5 315.4,496 316.9,496.3 318.6,496.2 320.2,495.7 321.8,495.3 323.2,494.1 324.8,493.7 325.3,491.9 327.1,490.8 327.6,489 328.6,487.5 329.4,485.8 330.9,484.8 331.8,483.2 333.6,482.5 334.8,483.8 335.9,485.1 337.3,486.2 337.8,487.9 338.5,489.4 340.2,490.4 341,491.8 341.9,493.3 342.3,495 343.6,493.7 344,492 345,490.5 345.3,488.7 346,486.8 346.9,485.1 348.2,483.7 349.8,482.5 351.6,482 353.3,481.2 354.8,480 356.9,480.1 358.5,478.7 359.4,480.2 359.7,481.9 360.9,483.2 361,485 362.6,484.8 364.2,484.7 365.6,483.4 367.3,483.7 369,484 370.6,484.5 372,485.5 373.5,486.2 374.3,487.6 375.5,488.6 375.9,490.3 377.3,491.2 377.4,493.2 378.5,494.9 378.7,496.9 379.3,498.7 380.1,500.4 381.7,501.6 381.8,503.8 383.5,504.9 384.6,506.6 384.5,508.7 384.9,510.7 386,512.4 387.7,512.7 389.5,512.9 390.7,514.2 392.3,514.9 394.2,514.4 396.2,514.2 398.1,513.6 399.8,512.4 399.9,512.4 401.3,513.5 403,513.1 404.5,514 406.2,513.7 407.7,514.7 409.4,514.4 409.5,516.4 410.5,518 411.8,519.4 412.4,521.2 412.7,523 413.3,524.7 413.7,526.4 413.4,528.3 414.4,529.9 413.5,531.3 412.3,532.5 410.9,533.5 409.9,534.9 409.2,536.7 408.9,538.7 407.7,540.4 407.4,542.4 406.2,543.8 406.2,545.9 404.5,547 403.7,548.6 402.2,549.4 401.5,550.9 401.3,552.7 399.9,553.6 399.2,555.3 397.1,555.8 396.2,557.4 394.9,558.4 393.3,557.2 392,557.9 390.8,556.5 389.4,555.3 387.5,554.9 386,555.7 384.7,556.8 383,557.1 381.1,557.1 380,558.6 378.4,559.4 376.6,559.9 375.2,561.2 374.4,563.1 372.5,563.6 370.8,563.9 369.7,565.5 367.7,565.4 366.8,567.1 365,567.4 363.1,567.9 362.3,569.8 360.5,570.4 359.5,572.1 357.5,572.4 355.7,573.4 354.6,575.1 353.6,576.8 351.9,578 351.2,579.9 350.6,581.5 350.3,583.2 349.4,584.6 348,585.8 347.5,587.4 347.9,589.5 346.3,591.3 346.4,593.3 345.7,595.2 346.2,597.3 346.1,599 345.7,600.7 346.1,602.4 346.9,603.9 346.3,605.6 346.4,607.2 347.3,608.6 348.9,609.3 349.7,610.7 350.3,612.3 349.5,614.1 349.8,616.1 348,615.8 346.6,614.5 344.8,614.3 343,615.2 341.1,615.3 339.1,615.2 337.3,616.1 335.7,616.6 333.9,616.6 332.8,618.3 331.1,618.6 329.5,618.9 327.8,618.9 326.2,619.1 324.8,620.3 323.3,619.2 321.2,619.2 319.8,617.8 318.5,616.6 316.8,616.7 315.4,615.7 313.6,616.1 311.8,616.2 310.2,616.7 309.1,618.4 307.3,618.6 305.4,618 303.6,617.3 303.4,615.3 301.4,614.2 301.1,612.3 299.8,611 298.3,610.3 296.5,610.2 294.9,609.8 293.7,608.5 292.9,606.8 291.1,606.1 289.4,606 287.6,606.1 286.1,604.9 284.2,605.2 282.9,603.4 281.1,603.6 279.7,602.9 278.6,601.7 277.2,601 276.1,599.9 274.6,599.1 272.8,599.2 271.7,597.4 269.9,597.4 268.3,596.9 266.8,596.1 265.1,595.6 263.6,594.9 262.3,593.7 260.2,594.4 258.8,593.3 257.4,592.4 255.7,591.6 254.1,593.2 252.4,592.4 252.3,594 251.9,595.5 251.8,597 251.9,598.6 250.1,598.2 248.5,599.7 246.6,599.2 244.9,599.4 243.1,598.5 241.2,598.3 239.3,598.3 237.4,598.6 235.7,599.1 234.3,598.2 232.6,598.5 231.2,597.4 229.6,597.6 227.9,597.3 226.3,597.6 224.9,598.6 223.6,597.8 222.7,596.3 221.4,595.5 219.9,594.9 218.6,593.3 216.9,592.4 214.9,591.9 214,591.1 212.9,590.6 212.5,589 214,587.7 213.7,586.1 215.1,584.7 216,583.1 216.2,581.1 217.4,580 218.5,578.9 218.6,577.1 219.9,576.1 220.6,574.6 221.3,573 222.4,571.7 222.4,569.9 223.9,569.1 223.7,566.9 225.8,566.5 226.2,564.9 225.7,563.1 225.2,561.2 225.4,559.2 224.9,557.4 224.3,555.9 223.3,554.7 222.5,553.4 221.2,552.4 220,551.4 219,550.1 217.2,549.9 216.2,548.7 216.8,547 217.4,545.2 217.9,543.5 217.9,541.6 218.7,539.9 218.8,538.3 219.2,536.8 220.1,535.3 219.9,533.7 221.7,533.8 222.8,531.8 224.7,532.1 226.2,531.2 227.5,530 229.2,529.8 230.6,529.1 232.4,529.4 234.3,529.9 236.2,529.3 238,528.8 239.9,528.7 241.5,528.3 242.9,527.2 244.4,526.4 246.1,526.2 247.7,526.2 249.2,526.4 250.8,527 252.4,526.2 254,525.5 254.6,523.7 255.7,522.4 257.4,521.9 259.1,521.9 260.5,520.9 261.9,519.9 263.6,519.9 263.4,518.2 263,516.5 262.4,514.9 262.8,513.4 263.8,512.3 264.9,511.2 266.7,510.4 266.9,508.2 268.6,507.4 268.6,505.8 268.6,504.2 266.9,502.9 267.4,501.2 268.7,500.2 269.5,498.9 269.8,497.2 271.1,496.2 271.9,494.5 273.6,493.7 274.9,492.5 275.8,491.2 277.4,490.5 277.2,488.4 278.6,487.5 280.5,486.7 281.6,485.1 282.9,483.7 282.8,482 284.4,480.8 283.8,478.8 284.9,477.5 286.1,476.5 287.4,475.8 288.6,475 290.3,476.3 292.4,476.2 294.1,477.1 294.8,478.8 296.1,480 297.6,479.4 299.2,479.2 300.7,479.1 302.3,479.5 304.3,479.6 306.2,479.1 308.1,478.8 309.9,477.9Z" fill="#d03030"/>
<path d="M409.4,514.4 411.2,515.2 413.3,514.9 414.9,516.2 416.8,515.7 418.2,514.4 419.9,513.7 421.9,513.4 423.6,514.9 425.5,514.7 427.4,514.9 428.8,516.1 430.6,516.7 432.1,517.8 433.7,518.7 435.2,519 436.7,519.9 438.4,519.1 439.9,519.9 441.7,519.2 443.6,519.2 445.6,520.1 447.4,519.4 448.1,517.5 447.6,515.6 447.9,513.7 447,512.4 446,511.1 444.9,509.9 443.3,509.2 441.7,508.7 439.9,509.4 439.2,507.9 438,506.7 437.9,504.9 439.2,503.7 440.7,503 442.4,502.4 443.2,501.1 443.7,499.7 443.5,497.9 444.9,496.9 446.2,495.8 447.2,494.5 448.2,493.1 449.9,492.4 451.3,491.3 452.1,489.6 453.6,488.7 455.3,487.9 456.7,486.6 458.6,486.2 460.3,485.2 461.8,483.9 463.6,483 465,481.9 466.7,482.3 468.2,481.8 469.9,482 470.5,480.7 471.9,480.1 472.4,478.7 471.5,477.4 469.8,477.2 468.6,476.2 468.5,474.4 467,473 466.9,471.2 468.5,470.1 469.9,468.7 471.5,468.8 473,469.6 474.6,469.2 476.1,470 477.9,469.2 479.9,469.5 481.8,468.8 483.6,468.2 484,469.7 485,470.9 486.2,472 486.1,473.7 487.1,474.9 487.7,476.4 489.1,477.3 489.9,478.7 491.5,479.5 493.3,480.2 494.8,481.1 496.1,482.5 496,484.3 497,485.7 497.9,487.2 498.6,488.7 497.5,489.8 497.1,491.5 496.2,492.8 494.9,493.7 494.5,495.6 494.3,497.5 493.6,499.3 493.6,501.2 493.7,502.9 494.8,504.3 494.9,506.1 496.1,507.4 496.9,509.1 498.7,509.8 499.6,511.4 501.1,512.4 502.5,513.6 504.2,514.3 505.4,515.8 507.3,516.2 509.3,516.2 510.9,517.6 512.8,518.1 514.8,517.9 516.5,517.5 518.5,518 520.1,517.2 521.7,515.7 523.6,516.2 525,517.7 525,520 526.8,521.2 526.3,522.9 525.3,524.5 524.8,526.2 523.9,527.8 523.1,529.4 522.4,531.1 521.1,532.4 520,533.8 519.7,535.4 520.4,537.2 519.8,538.7 518.5,540.1 516.8,540.8 515.4,541.8 513.6,542.4 512,542.9 511.4,544.8 509.7,545.2 508.8,546.7 507.3,547.4 507.1,549.4 505.9,550.8 504.9,552.4 503.1,552.3 501.6,553.5 499.9,553.6 498.9,554.8 498,556.1 496.8,557.1 496.1,558.6 494.3,559.3 493.8,561.3 491.8,561.8 491.1,563.6 489.8,564.4 488.8,565.5 487.4,566.1 488.4,567.2 489.7,568.2 489.9,569.9 488.5,571.1 486.5,571.3 485.2,572.7 483.6,573.6 482,573.6 480.5,574.2 479,574.9 477.4,574.9 475.6,575.8 473.8,576.7 471.9,577.1 469.9,577.4 467.9,577.6 466.2,576.6 464.4,575.8 462.4,576.1 460.6,576.7 459.1,577.8 457.4,578.6 455.5,578.2 454.3,576.7 452.7,575.7 451.1,574.9 449.6,574.3 448.1,573.7 446.4,573.4 444.9,572.9 443.4,572.3 441.8,572.3 440.2,572.8 438.7,572.4 437.1,571.7 436.4,570.2 435.8,568.7 434.9,567.4 433.1,567.2 432.1,565.4 430,565.9 428.5,565.1 427.4,563.6 425.8,564.2 424.2,564.9 422.4,564.9 421,564.1 419.5,563.5 418.4,562.3 417.4,561.1 416.8,562.5 415.5,563.5 414.9,564.9 413.1,564.1 411.2,563.8 409.3,564 407.4,564.4 405.8,563.2 405,561.4 403.7,559.9 402.2,559 400.4,559.9 399,558.7 397.4,558.6 395.6,558.4 393.7,558.9 392,557.9 393.3,557.2 394.9,558.4 396.2,557.4 397.1,555.8 399.2,555.3 399.9,553.6 401.3,552.7 401.5,550.9 402.2,549.4 403.7,548.6 404.5,547 406.2,545.9 406.2,543.8 407.4,542.4 407.7,540.4 408.9,538.7 409.2,536.7 409.9,534.9 410.9,533.5 412.3,532.5 413.5,531.3 414.4,529.9 413.4,528.3 413.7,526.4 413.3,524.7 412.7,523 412.4,521.2 411.8,519.4 410.5,518 409.5,516.4 409.4,514.4Z" fill="#d03030"/>
<g stroke-width="1.1">
<path d="M597.3,573.9 598.8,574.6 600.3,575.3 600.9,576.9 600.6,578.8 601.3,580.4 601.6,581.9 601.2,583.5 601.3,585 601.3,586.5 601.1,588 601.7,589.5 601.2,591.1 601.7,592.6 601.9,594.4 602.5,596.1 603.4,597.7 603.8,599.2 604.1,600.8 604.6,602.3 605,603.8 605.2,605.6 605.8,607.3 605.5,609.1 605.8,610.9 606.2,612.5 606.4,614.2 606.2,615.8 606.1,617.5 606.4,619.1 606.4,620.7 605.7,622.3 606.1,624 605.7,625.6 605.8,627.3 605.1,628.8 605.1,630.5 604.9,632.2 605.1,633.9 604.4,635.4 604.3,637.1 604.1,638.7 603.5,640.3 603.4,642 603,643.6 602.9,645.1 602.4,646.6 602.4,648.2 602.3,649.7 601.6,651 600.5,651.9 599.3,652.7 599.3,654.4 598.9,656.1 598.9,657.8 597.9,659.1 596.9,660.4 596.2,661.9 594.9,661.1 593.5,660.7 592.2,659.9 591,658.6 589.4,657.9 588.1,656.8 586.3,656.5 584.7,656 583,655.4 581.9,654.1 580.1,653.8 578.9,652.7 579.5,651.1 580,649.4 579.9,647.6 578.3,646.5 576.9,645.2 575.2,644.8 573.8,643.6 574.5,642.3 575.2,640.9 575.9,639.5 574.9,638.1 574.2,636.5 572.8,635.4 571.2,634.9 569.7,634.4 570.1,632.6 570.8,630.9 571.8,629.3 573.4,628.4 574.8,627.3 573.3,626 571.2,625.5 569.7,624.2 568.8,622.9 568.2,621.3 567.1,620.1 568,618.8 568.9,617.4 569.7,616 568.5,614.9 567.2,613.9 566,612.9 564.6,612 565.7,611.1 566.8,610 567.7,608.9 568.4,607 570.1,605.7 570.8,603.8 572,602.6 572.7,601 573.8,599.7 575.4,598.6 577.1,597.5 578.9,596.7 580.6,595.6 582.1,594.4 584,593.6 585.4,592.6 586.6,591.4 588.1,590.6 589.8,590.4 591.5,590.6 593.2,590.6 594.4,589.5 595.6,588.5 595.8,587 595.2,585.5 595.6,583.9 595.2,582.4 594.9,580.7 595.2,579 594.8,577.3 595.8,576.3 596.3,574.9Z" fill="#f0a0a0" stroke-width="1.6"/>
<path d="M75.4,648.1 76.6,647.5 77.6,646.5 79,646.2 80.8,646.5 82.6,647.1 83.8,648.1 84.4,649.5 85.3,650.8 86.6,651.6 87.8,652.6 89,653.5 90.4,654.8 91.7,656.2 91.4,657.6 90.8,658.9 91.5,660 92.1,661.3 92.6,662.5 92.2,664.1 92,665.7 91.1,667.1 91.1,668.9 91.1,670.7 91.4,672.5 91.7,674.3 91.7,676.1 92.2,677.9 91.8,679.7 92.2,681.5 91.5,683 91.2,684.6 90.8,686.2 90.8,687.9 89.8,689.1 88.1,689.4 87.1,690.6 85.7,691.3 84.1,691.8 82.6,692.4 81.2,693.3 79.7,694 78.1,694.6 76.6,693.2 74.8,692.4 74.9,690.7 74.1,689.3 73.6,687.7 73.6,686.1 73.3,684.5 72.9,682.9 73.3,681.2 73.4,679.5 73,677.9 72.7,676.1 72.9,674.3 72.3,672.5 72.9,670.7 72.3,668.9 72.2,667.1 72.4,665.2 72.5,663.4 73,661.6 73,659.8 72.8,658.2 73.2,656.6 73.2,655 73.6,653.5 73.8,651.6 75,650Z" fill="#f0a0a0"/>
<path d="M93.5,658.9 94.9,657.9 95.9,656.5 97.1,655.3 97.7,653.8 98.2,652.2 98.9,650.8 99.7,649.3 100.1,647.7 100.7,646.2 100.2,644.4 99.7,642.5 98.9,640.8 99.5,639.4 99.5,637.7 100.2,636.3 101.5,635.4 102.8,634.3 104.3,633.6 105.9,633.3 107.1,632.3 107.9,633.9 108.9,635.4 110.1,636.4 110.4,638 111.6,639 111,640.4 111.1,642 110.7,643.5 110.2,645.3 110.3,647.2 109.8,649 110.8,650.1 111.9,651.2 112.5,652.6 114,653.6 115.6,654.2 117,655.3 118.4,656 119.4,657.2 120.6,658 121.5,659.1 121.7,660.5 122.4,661.6 123.4,663 124.9,664 126.1,665.2 124.7,664.7 123.3,664.3 121.8,664.2 120.3,664.7 118.8,664.9 117.4,665.5 115.8,665.9 114.3,666.2 112.9,666.9 111.2,666.7 109.8,667.4 108.2,667.3 106.7,667.8 105.2,668 103.7,667.7 102.2,667.4 100.7,667.4 99,667.1 97.8,665.7 96.2,665.2 95,663.7 93.5,662.5 93.8,660.7Z" fill="#f0a0a0"/>
<path d="M108,700.5 108.9,699.1 109.6,697.6 109.8,696 110.4,694.6 111.7,693.7 112.5,692.4 114.1,691.8 115.7,692 117.1,693.3 117.9,695.1 118.9,696.5 119.4,698.3 120.6,699.6 120.4,701.2 119.6,702.6 119.7,704.2 118.3,705.2 117.1,706.4 116.1,707.8 115.1,708.8 113.5,709 112.5,710.1 111,709.3 110.2,707.9 108.9,706.9 108.3,705.4 108.7,703.7 108.1,702.1Z" fill="#f0a0a0"/>
<path d="M135.1,659.5 136.6,658.4 138.3,657.6 139.6,656.2 141,655.3 142.6,654.7 144.2,654.4 144.2,655.8 143.6,657.1 142.3,657.7 140.8,657.9 139.6,658.9 138.2,659.2 137.1,660.3 135.7,660.7Z" fill="#f0a0a0"/>
<path d="M184.9,647.1 186.1,645.8 186.6,644 187.6,642.6 189.1,642.1 190.5,641.1 192.1,640.8 193.6,641.5 195.2,641.9 196.7,642.6 198.3,643.4 199.7,644.4 201.2,645.3 201.8,646.8 203,647.8 203.9,649 204.4,650.6 205.4,651.9 205.7,653.5 206.6,654.7 207.5,655.9 208.4,657.1 209.9,656.7 211.4,656.7 212.9,656.2 214.8,655.9 216.6,655.3 215.9,656.4 215.8,657.9 214.8,658.9 213.7,659.8 212.2,659.8 211.1,660.7 211.1,662.3 212,663.6 212,665.2 213.4,666.6 214.8,668 214.4,669.5 213.7,670.9 213.5,672.5 214.4,673.9 214.8,675.6 215.7,677 215.8,678.9 216.8,680.5 217.1,682.4 216.6,684 216.7,685.6 216.9,687.2 216.6,688.8 216.2,690.7 215.4,692.4 214.8,694.2 213.9,695.7 213.1,697.3 212,698.7 210.5,698.8 209.3,699.6 208.2,698.4 207.5,696.9 207.9,695.3 208.8,693.9 209.3,692.4 208.7,690.9 207.5,689.7 205.6,689.7 203.9,690.6 202.4,690.3 200.9,689.8 199.4,689.7 197.8,689.6 196.3,690 194.8,690.6 193.3,689.4 192.1,687.9 191.6,686 190.7,684.3 191.8,682.9 193,681.5 194.9,681.3 196.7,680.6 197.8,679.3 199.4,678.8 198.8,677 198.5,675.2 196.7,674.7 194.8,674.3 193.6,673.8 192.5,672.9 191.2,672.5 190.5,670.9 189.3,669.6 188.5,668 188.4,666.1 187.6,664.4 187.6,662.5 187.4,660.7 187.4,658.8 186.7,657.1 186.4,655.5 185.5,654.2 185.2,652.6 185.1,650.8 184.6,649Z" fill="#ffd0d0"/>
<path d="M287.4,639.8 288.9,640.4 290.1,641.6 291.6,642.3 292.9,643.3 294.3,644.5 296.3,644.6 297.9,645.4 299.3,646.6 300.3,647.8 301.6,648.9 302.1,650.5 303.1,651.8 304.3,652.9 305.3,654.2 306.7,655.2 307.6,656.5 308.6,657.9 309.4,659.3 310.2,660.7 311.4,661.9 312.8,662.8 313.7,664.2 314.5,665.6 315.1,667.2 316.4,668.4 316.6,670.3 317.5,671.7 318.3,673.2 318.1,674.8 317.4,676.3 316.8,677.8 316.6,679.4 315.8,680.8 314.5,682.2 313.8,683.9 312.9,685.6 312,687.2 311.2,688.7 310.8,690.4 310.1,691.9 308.6,693.1 308.2,694.8 307.1,696.3 306.2,697.9 305.5,699.7 304.3,701.1 303.5,702.8 302.2,704.1 301.5,705.9 300.5,707.4 299.3,708.6 298.6,710.1 297.6,711.3 296.5,712.5 295.5,713.8 293.9,713 292.2,712.8 290.6,712.1 289.1,711.2 287.4,710.4 285.7,709.7 284.1,708.7 282.5,709.1 280.8,708.9 279.3,709.8 277.7,710 276.1,709.6 274.9,708.4 273.6,707.4 272.2,706.6 270.6,706.2 270.9,704.5 272,703.2 272.6,701.7 273.3,700.1 273.9,698.6 274.7,697.1 275.8,695.7 276.4,694.2 276.6,692.3 277.7,691 277.9,689.4 278.4,687.9 279.3,686.4 280,685 280.3,683.4 280.1,681.8 279.4,680.3 278.9,678.8 278.4,677.2 277.7,675.8 277.2,674.1 277,672.3 276.6,670.5 276.8,668.7 276.5,666.9 276.4,665.1 276.3,663.3 276.7,661.6 276.8,659.8 276.5,658 277.4,656.5 277.9,654.9 279,653.6 279.7,652 280.3,650.4 281.3,649 282,647.3 282.4,645.6 283.3,644.1 284.9,642.9 285.8,641.1Z" fill="#f0a0a0"/>
<path d="M376.6,654.2 378.4,653.5 380.3,652.9 382.3,653 384.2,652.4 386.2,652.2 387.9,651 389.9,651 391.8,650.4 393.6,650.4 395.3,651.3 397.1,651.3 398.8,651.7 400.6,651.7 402.2,651.9 403.6,653 405.2,653.3 406.7,653.8 408.3,654.2 409.8,655.2 410.7,656.8 411.9,658.2 413.3,659.3 413.5,661.3 414.2,663.1 415,664.9 415.1,666.9 415.8,668.4 416.4,669.9 417.1,671.5 417.8,672.9 418.4,674.5 419.3,676.1 420.4,677.6 421.6,679 422.2,680.8 423.2,682.4 423.3,684.3 424.2,685.9 423.1,687.4 422.1,689 421,690.5 420.2,692.2 419.6,694.1 419.1,696 418.9,697.9 418.4,699.8 417.7,701.3 416.8,702.6 415.5,703.6 414.6,704.9 412.7,705.5 410.8,705.8 409,706.7 407,706.7 405.1,706.4 403.2,706.7 401.3,706.6 399.4,706.2 398,705.3 396.4,704.9 395,704.3 393.3,704.2 391.8,703.6 390.2,703.2 388.8,702.2 387.4,701.5 385.8,700.9 384.2,700.6 382.5,699.6 380.8,698.5 379.5,697.1 377.8,696 376.6,694.7 375.3,693.5 374.1,692.2 372.8,691 372.2,689.4 372.3,687.7 371.8,686.1 371,684.6 370.7,683 369.6,681.6 369.5,679.9 369,678.3 368.6,676.4 368.7,674.4 367.7,672.6 367.7,670.7 367.7,668.9 368.6,667.3 369,665.6 370.2,664.5 371.3,663.5 372.7,662.7 374,661.8 374.8,660.4 374.8,658.7 375.7,657.3 376,655.7Z" fill="#ffd0d0"/>
<path d="M476.7,649.9 477.6,651.2 478.2,652.6 478.4,654.2 479.8,655.2 480.3,657 481.7,658 483.4,658.7 485,659.5 486.8,660 488.5,659.5 490.2,659.3 491.9,659.3 492.9,660.9 494.7,661.6 495.7,663.1 496.5,664.7 496.5,666.5 496.9,668.2 496.2,670 495.6,671.7 494.4,673.2 494.1,674.9 492.9,676.3 492.6,678 491.9,679.6 490.9,681.2 490.3,683 489.3,684.6 488.7,686.4 487.7,688 486.8,689.7 488.2,690.8 489.4,692.2 490.6,693.5 491.2,694.7 491.5,696 491.9,697.3 490.2,697.9 488.5,698.5 486.8,699.1 485.3,699.5 484,700.4 482.5,700.6 480.9,699.5 479.7,698.1 477.9,697.3 477.2,696 476.1,694.9 475.4,693.5 476.9,692.2 477.9,690.5 476.8,689 475.5,687.7 474.1,686.4 475.6,685.7 476.7,684.6 477.7,686.1 479.5,686.8 480.5,688.4 481.9,688 483.1,687.3 484.3,686.4 483.6,684.6 483.6,682.6 483,680.8 482,679.1 481.1,677.4 480,675.8 479,674.6 478.6,673.1 477.4,672.1 476.7,670.7 475.7,669.4 474.7,668.2 473.7,667 472.9,665.6 471.4,664.5 470.5,663 469.1,661.8 469.9,660.2 469.9,658.4 470.3,656.7 471.5,655.2 472.8,653.8 474.1,652.4 475.7,651.4Z" fill="#f0a0a0"/>
<path d="M500.8,668.7 502.3,667.4 503.8,666.1 504.7,667.8 505.8,669.4 504.6,671 502.8,672 502.1,670.1Z" fill="#f0a0a0"/>
<path d="M53.5,275.4 55.1,275.1 56.5,274.4 57.2,275.6 57.5,276.9 56,277.5 54.5,277.9 54.2,276.6Z" fill="#000" stroke-width="0.9"/>
<path d="M58.5,279.9 59.5,279.8 60.5,279.4 60.8,280.4 60.5,281.4 58.7,281.6Z" fill="#000" stroke-width="0.9"/>
<path d="M60,299.4 61.2,299.1 62.5,298.9 62.4,299.9 62.5,300.9 61.3,300.9 60.2,301.1Z" fill="#000" stroke-width="0.9"/>
<path d="M72,286.4 73.3,285.7 74.8,285.3 76.3,284.8 77.5,283.9 79,284.6 80.7,284.9 82.2,285.6 83.7,286.4 84.8,287.4 85.9,288.4 87,289.4 86.3,290.9 85,291.9 83.1,291.5 81.4,290.5 79.5,289.9 77.9,290.5 76.5,291.5 75,292.4 73.7,291.2 72.5,289.9 72,288.2Z" fill="#fff" stroke-width="0.9"/>
<path d="M69.5,295.4 71.4,295 73.2,294.6 75,293.9 76.7,294.5 78.5,294.9 80.2,295.2 82,295.4 80.5,296 79.4,297.2 78,297.9 76.2,297.9 74.3,297.6 72.5,297.9 70.9,296.8Z" fill="#fff" stroke-width="0.9"/>
<path d="M107.9,323.8 109.4,324.2 110.9,324.4 112.4,324.8 113.3,326 113.9,327.3 112.5,327.3 111.2,327.7 109.9,327.8 108.8,326.6 107.4,325.8 107.8,324.8Z" fill="#000" stroke-width="0.9"/>
<path d="M124.9,328.8 126.5,328.2 128.2,328.1 129.6,327.2 131.2,326.8 132.9,327.1 134.6,327 136.3,327.4 137.9,327.8 138.2,329.4 138.9,330.8 137.6,331.6 136.4,332.4 134.9,332.8 133.1,332.9 131.2,332.8 129.4,333.3 128,332.6 126.3,332.6 124.9,331.8 125,330.3Z" fill="#000" stroke-width="0.9"/>
<path d="M115.4,336.8 117.3,337.4 119.2,337.6 121.2,337.8 122,339.1 122.9,340.3 121.4,340.3 119.9,340.1 118.4,340 116.9,340.3 115.9,338.7Z" fill="#000" stroke-width="0.9"/>
<path d="M107,324 108.7,324.5 110.5,324.5 110.5,325.8 111,327 109.2,326.8 107.5,327 107.1,325.5Z" fill="#000" stroke-width="0.9"/>
<path d="M125,327.5 126.5,326.9 128.1,326.9 129.7,326.7 131.2,326 132.9,326.4 134.6,326.9 136.2,327.8 138,328 138,329.5 137.4,331 137.5,332.5 135.6,332.7 133.8,333.5 132,334 130.5,333.6 129.1,332.8 127.6,332.2 126,332 125.9,330.5 125.5,329Z" fill="#000" stroke-width="0.9"/>
<path d="M115.5,340.5 117,340 118.5,340.1 120,340 121,341 122.1,341.9 123,343 121.8,344.4 121,346 119.5,345.7 118.1,345.1 116.5,345 116.2,343.5 115.7,342Z" fill="#f0a0a0" stroke-width="0.9"/>
<path d="M124.5,337.5 126.2,337.3 128,337.5 128.2,338.8 128,340 126.2,340.3 124.5,340 124.5,338.8Z" fill="#000" stroke-width="0.9"/>
<path d="M149.5,361.9 151.2,362.2 153,362.4 153,364.2 153.5,365.9 151.8,366.2 150,365.9 149.7,364.6 149.5,363.3Z" fill="#f0a0a0" stroke-width="0.9"/>
<path d="M144.5,376.9 146.2,377.2 148,377.4 148.5,379.2 149,380.9 147.3,380.3 145.5,380.4 144.7,378.7Z" fill="#000" stroke-width="0.9"/>
<path d="M173.9,404.9 175.3,405.1 176.5,404.3 177.9,404.4 179.4,405.3 181.1,405.9 182.8,406.6 184.4,407.4 185.8,408.5 186.9,409.9 186.1,411.1 184.9,411.9 183,411.7 181.3,410.8 179.4,410.4 178,409.4 176.3,408.9 174.9,407.9 174.6,406.3Z" fill="#000" stroke-width="0.9"/>
<path d="M180.4,412.9 182.3,412.4 184.3,412.6 186.2,412.4 187.7,413.5 189.2,414.6 190.9,415.4 191.2,417.1 192.2,418.6 192.4,420.4 191.5,421.8 191.1,423.4 190.4,424.9 188.8,425.3 187.4,426.1 186.5,424.7 185.7,423.3 184.9,421.9 183.7,420.9 182.7,419.6 181.4,418.6 180.4,417.4 180.2,415.9 180.2,414.4Z" fill="#fff" stroke-width="0.9"/>
<path d="M179.4,419.4 180.9,419.3 182.4,418.9 183.6,420.3 184.4,421.9 185.3,423.5 186.4,424.9 186.5,426.3 186.9,427.6 187.4,428.9 186,428.1 184.4,427.9 183,426.6 181.9,425 180.9,423.4 180.7,422 179.9,420.7Z" fill="#d03030" stroke-width="0.9"/>
<path d="M181,486.5 182.6,486 184.3,485.9 185.9,485.5 187.2,486.7 188.5,488 189.9,489 190,490.4 189.9,491.7 189.4,493 187.8,493.4 186.1,493.2 184.5,493.5 182.9,492.4 181.2,491.5 181.4,489.8 181.1,488.2Z" fill="#fff" stroke-width="0.9"/>
<path d="M222.4,558.9 223.9,558.9 225.4,558.9 226.9,558.4 226.7,560.3 227,562.2 227.4,564.1 227.1,566 227.4,567.9 225.9,568.2 224.5,568.8 222.9,568.9 223.1,567.2 222.5,565.6 222.7,563.9 222.6,562.2 222.5,560.6Z" fill="#d03030" stroke-width="0.9"/>
<path d="M422.9,553.9 424.6,553.3 426.4,553.4 427,555.2 427.9,556.9 429.3,557 430.5,557.9 431.9,557.9 431.6,559.6 431.4,561.4 429.8,561.4 428.3,561.8 426.9,562.4 425.8,561.2 424.8,559.9 423.4,558.9 423.5,557.2 422.8,555.6Z" fill="#fff" stroke-width="0.9"/>
<path d="M467.4,579.9 468.9,579.9 470.4,580.6 471.9,580.4 472.3,581.4 472.4,582.4 471.1,582.7 469.8,583 468.4,582.9 467.8,581.4Z" fill="#000" stroke-width="0.9"/>
<path d="M476.9,579.9 478.4,579.8 479.9,579.6 481.4,579 482.9,578.9 482.1,580.3 481.9,581.9 480.4,582.2 478.9,582.4 477.4,582.9 477.2,581.4Z" fill="#000" stroke-width="0.9"/>
<path d="M78.8,704.7 80.3,704.5 81.7,704.9 83.2,705.1 84.6,704.6 86.2,704.7 87.5,704 86.8,705.3 85.9,706.6 85.3,708 84.3,708.9 83.2,709.8 81.8,708.9 80.3,708.3 79.6,706.5Z" fill="#000" stroke-width="0.9"/>
<circle cx="420.2" cy="510.4" r="3.1" fill="#d03030" stroke-width="1.1"/>
</g>
</g>
<g font-family="Liberation Sans, sans-serif" font-size="12.8" fill="#24171a" fill-opacity="0.9" stroke="#24171a" stroke-opacity="0.8" stroke-width="0.45" text-anchor="middle">
<text transform="translate(338.5,214.5) scale(0.925,1)">436 985</text>
<text transform="translate(237.1,259) scale(0.925,1)">231 161</text>
<text transform="translate(329,284.5) scale(0.925,1)">1 096 205</text>
<text transform="translate(445.2,275) scale(0.925,1)">532 252</text>
<text transform="translate(132.9,303.7) scale(0.925,1)">247 992</text>
<text transform="translate(206,348.7) scale(0.925,1)">295 832</text>
<text transform="translate(294,338) scale(0.925,1)">170 829</text>
<text transform="translate(417.8,359.5) scale(0.925,1)">229 374</text>
<text transform="translate(243.8,480.5) scale(0.925,1)">541 297</text>
<text transform="translate(407.2,456.2) scale(0.925,1)">741 427</text>
<text transform="translate(315.8,552.5) scale(0.925,1)">560 528</text>
<text transform="translate(461.2,529.5) scale(0.925,1)">532 943</text>
<text transform="translate(587.8,622.8) scale(0.925,1)">27 635</text>
<text transform="translate(99.6,668) scale(0.925,1)">17 982</text>
<text transform="translate(201.2,674.8) scale(0.925,1)">2 952</text>
<text transform="translate(295,680.8) scale(0.925,1)">84 743</text>
<text transform="translate(395.8,683.4) scale(0.925,1)">2 329</text>
<text transform="translate(484.7,679.6) scale(0.925,1)">21 265</text>
</g>
</svg>

<!-- legend -->
<div class="abs leg" style="left:669px;top:163px;font-size:13px;">Nb de téléconsultations facturées depuis sept.18</div>
<div class="sw" style="top:181.7px;background:#c00000;"></div><div class="abs leg" style="left:700px;width:61px;text-align:right;top:186.5px;">800 000</div><div class="abs leg" style="left:767.2px;top:186.5px;">à</div><div class="abs leg" style="left:770px;width:61px;text-align:right;top:186.5px;">1 100 000</div><div class="abs leg" style="left:841px;top:186.5px;">(1)</div>
<div class="sw" style="top:205.5px;background:#d03030;"></div><div class="abs leg" style="left:700px;width:61px;text-align:right;top:210.3px;">500 000</div><div class="abs leg" style="left:767.2px;top:210.3px;">à</div><div class="abs leg" style="left:770px;width:61px;text-align:right;top:210.3px;">800 000</div><div class="abs leg" style="left:841px;top:210.3px;">(5)</div>
<div class="sw" style="top:229.4px;background:#e07070;"></div><div class="abs leg" style="left:700px;width:61px;text-align:right;top:234.2px;">200 000</div><div class="abs leg" style="left:767.2px;top:234.2px;">à</div><div class="abs leg" style="left:770px;width:61px;text-align:right;top:234.2px;">500 000</div><div class="abs leg" style="left:841px;top:234.2px;">(5)</div>
<div class="sw" style="top:253.2px;background:#f0a0a0;"></div><div class="abs leg" style="left:700px;width:61px;text-align:right;top:258.0px;">3 000</div><div class="abs leg" style="left:767.2px;top:258.0px;">à</div><div class="abs leg" style="left:770px;width:61px;text-align:right;top:258.0px;">200 000</div><div class="abs leg" style="left:841px;top:258.0px;">(5)</div>
<div class="sw" style="top:277.1px;background:#ffd0d0;"></div><div class="abs leg" style="left:700px;width:61px;text-align:right;top:281.9px;">0</div><div class="abs leg" style="left:767.2px;top:281.9px;">à</div><div class="abs leg" style="left:770px;width:61px;text-align:right;top:281.9px;">3 000</div><div class="abs leg" style="left:841px;top:281.9px;">(2)</div>

<!-- right text -->
<div class="abs rt" style="left:659.5px;top:405px;"><b>1/5 des téléconsultations sont facturées</b><br><b>en Ile-de-France</b>.</div>
<div class="abs rt" style="left:660px;top:478px;">-</div>
<div class="abs rt" style="left:693px;top:478px;"><b>Paris</b> comptabilise plus de 320 000<br>téléconsultations</div>
<div class="abs rt" style="left:660px;top:551px;">-</div>
<div class="abs rt" style="left:693px;top:551px;">On en compte environ 225 000 dans le<br><b>Nord</b>, le <b>Rhône</b> et les <b>Bouches-du-</b><br><b>Rhône</b></div>


<!-- bottom line + logo -->
<svg class="abs" style="left:0;top:0" width="1105" height="785" viewBox="0 0 1105 785">
<path d="M43,722.6 L884,722.6 C 898,722.6 904,711.5 910,701.5 S 924,685.6 940.4,685.6 L1077,685.6" fill="none" stroke="#1c4a99" stroke-width="1.7"/>
<g stroke="#b9c6e3" stroke-width="0.6">
<line x1="927" y1="706.4" x2="955" y2="706.4"/><line x1="928" y1="721.7" x2="955" y2="721.7"/><line x1="928" y1="729.3" x2="955" y2="729.3"/><line x1="927" y1="736.4" x2="955" y2="736.4"/>
</g>
<g fill="#1b4da3" stroke="none">
<!-- top jumper -->
<circle cx="934.5" cy="705.3" r="1.7"/>
<path d="M932.6,707 L940,706 L946,707.2 L945.8,708.4 L939,708.3 L938.2,711 L934.2,711.6 L932.3,714.8 L930.8,714.2 L932.8,710.2 Z"/>
<!-- left child -->
<circle cx="927.2" cy="716" r="1.6"/>
<path d="M925.6,718 L929,718 L933.8,717.8 L933.9,718.9 L929.3,719.6 L929,724 L928.6,728.8 L927.6,728.8 L927.3,724.5 L926.9,728.8 L925.9,728.8 L925.2,722 L924,720 Z"/>
<!-- centre runner -->
<circle cx="942.1" cy="713.4" r="2.1"/>
<path d="M940.8,715.4 L944,715.6 L948,716.6 L952.3,715.6 L952.6,716.6 L948.2,718.4 L945,718.2 L945.6,722 L948.3,725.5 L953.3,735.6 L955,736.4 L951.6,736.6 L945.3,728 L939.5,731.2 L931,736.2 L930,736.6 L929.2,734.6 L937,729.3 L941,724.6 L940.6,719.8 L937,722 L932.2,724 L931.8,723 L936.4,720.4 Z"/>
<!-- right adult -->
<circle cx="955.8" cy="709.5" r="1.9"/>
<path d="M953.6,711.6 L958.6,711.6 L961.8,713.6 L961,715.4 L959.6,714.8 L959.3,721 L958.6,727.4 L957.2,727.4 L957,720.5 L956.4,720.5 L955.8,726.8 L954.4,726.8 L954.4,713.4 L947.6,711.9 L947.5,711 Z"/>
</g>
<path id="arc" d="M917.6,722.4 C 919.5,711 923.5,703.6 929.2,700 C 934,698.4 942,697.9 950,697.2" fill="none"/>
<text font-family="Liberation Sans, sans-serif" font-size="4.3" fill="#1b4da3" letter-spacing="0.15" font-weight="bold"><textPath href="#arc">SÉCURITÉ SOCIALE</textPath></text>
<g font-family="Liberation Sans, sans-serif" font-weight="bold" fill="#1b4da3" stroke="#1b4da3" stroke-width="0.5">
<text id="lg1" x="963.8" y="736.2" font-size="25" textLength="93.5" lengthAdjust="spacingAndGlyphs">l’Assurance</text>
<text id="lg2" x="938.6" y="757.5" font-size="24.5" textLength="65.2" lengthAdjust="spacingAndGlyphs">Maladie</text>
</g>
</svg>
<div class="abs" style="left:71.6px;top:737.8px;font-weight:bold;font-size:17px;line-height:19px;color:#333399;">16</div>
</body></html>
